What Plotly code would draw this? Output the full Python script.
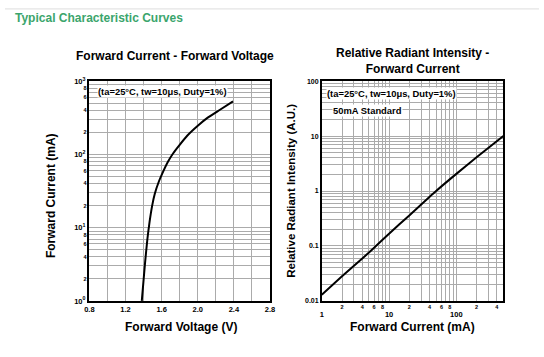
import plotly.graph_objects as go

# ---------------- data ----------------
# Forward current vs forward voltage
vf_volts = [1.38, 1.415, 1.441, 1.466, 1.495, 1.524, 1.57, 1.61, 1.671, 1.726, 1.795, 1.885, 2.00, 2.11, 2.25, 2.39]
vf_current_ma = [1, 3.2, 6.8, 12, 20, 29, 43, 56, 80, 103, 133, 181, 246, 317, 410, 530]

# Relative radiant intensity vs forward current
ri_current_ma = [1, 2, 4, 6, 10, 20, 50, 100, 200, 500]
ri_intensity = [0.013, 0.028, 0.059, 0.093, 0.167, 0.36, 1.0, 2.05, 4.1, 10]

# tick labels
vf_x_ticks = [0.8, 1.2, 1.6, 2.0, 2.4, 2.8]
vf_x_labels = ["0.8", "1.2", "1.6", "2.0", "2.4", "2.8"]
vf_x_grid = [0.8, 1.0, 1.2, 1.4, 1.6, 1.8, 2.0, 2.2, 2.4, 2.6, 2.8]
vf_y_major = [1, 10, 100, 1000]
vf_y_major_labels = ["10<sup>0</sup>", "10<sup>1</sup>", "10<sup>2</sup>", "10<sup>3</sup>"]
vf_y_minor = [2, 4, 6, 8, 20, 40, 60, 80, 200, 400, 600, 800]
vf_y_minor_labels = ["2", "4", "6", "8", "2", "4", "6", "8", "2", "4", "6", "8"]

ri_x_major = [1, 10, 100]
ri_x_major_labels = ["1", "10", "100"]
ri_x_minor = [2, 4, 6, 8, 20, 40, 60, 80, 200, 400]
ri_x_minor_labels = ["2", "4", "6", "8", "2", "4", "6", "8", "2", "4"]
ri_y_major = [0.01, 0.1, 1, 10, 100]
ri_y_major_labels = ["0.01", "0.1", "1", "10", "100"]

# ---------------- styling ----------------
FONT = "Liberation Sans, Arial, sans-serif"
GRID = "#ababab"
W, H = 544, 357


def py(px):
    return 1 - px / H


def pxx(px):
    return px / W


mults = [1, 2, 3, 4, 5, 6, 7, 8, 9]
vf_y_grid = [m * 10 ** d for d in range(0, 3) for m in mults] + [1000]
ri_x_grid = [m * 10 ** d for d in range(0, 3) for m in mults if m * 10 ** d <= 500]
ri_y_grid = [m * 10.0 ** d for d in range(-2, 2) for m in mults] + [100]

fig = go.Figure()
fig.add_trace(go.Scatter(x=vf_volts, y=vf_current_ma, mode="lines",
                         line=dict(color="black", width=2, shape="spline", smoothing=0.6),
                         xaxis="x", yaxis="y", showlegend=False))
fig.add_trace(go.Scatter(x=ri_current_ma, y=ri_intensity, mode="lines",
                         line=dict(color="black", width=2, shape="spline", smoothing=0.6),
                         xaxis="x2", yaxis="y2", showlegend=False))

frame = dict(showline=True, linecolor="black", linewidth=1.5, mirror=True, ticks="",
             showgrid=True, gridcolor=GRID, gridwidth=1.2, zeroline=False)


def minor(vals):
    return dict(tickmode="array", tickvals=vals, showgrid=True, gridcolor=GRID,
                gridwidth=1.2, ticks="")


small = dict(family=FONT, size=5.5, color="black", weight="bold")
big = dict(family=FONT, size=7.5, color="black", weight="bold")
plain = dict(showgrid=False, showline=False, ticks="", zeroline=False)

ydom = [py(304.3), py(77.5)]
fig.update_layout(
    width=W, height=H, margin=dict(l=0, r=0, t=0, b=0),
    paper_bgcolor="white", plot_bgcolor="white",
    font=dict(family=FONT, color="black"),
    xaxis=dict(domain=[pxx(86), pxx(270)], range=[0.8, 2.8], anchor="y",
               tickmode="array", tickvals=vf_x_ticks, ticktext=vf_x_labels,
               tickfont=big, minor=minor(vf_x_grid), **frame),
    yaxis=dict(domain=ydom, type="log", range=[0, 3], anchor="x",
               tickmode="array", tickvals=vf_y_minor, ticktext=vf_y_minor_labels,
               tickfont=small, minor=minor(vf_y_grid), **frame),
    yaxis3=dict(overlaying="y", type="log", range=[0, 3], anchor="x", side="left",
                tickmode="array", tickvals=vf_y_major, ticktext=vf_y_major_labels,
                tickfont=big, ticklabelstandoff=3, **plain),
    xaxis2=dict(domain=[pxx(322.7), pxx(507.7)], type="log", range=[0, 2.69897], anchor="y2",
                tickmode="array", tickvals=ri_x_minor, ticktext=ri_x_minor_labels,
                tickfont=small, minor=minor(ri_x_grid), **frame),
    xaxis4=dict(overlaying="x2", type="log", range=[0, 2.69897], anchor="y2", side="bottom",
                tickmode="array", tickvals=ri_x_major, ticktext=ri_x_major_labels,
                tickfont=big, ticklabelstandoff=8, **plain),
    yaxis2=dict(domain=ydom, type="log", range=[-2, 2], anchor="x2",
                tickmode="array", tickvals=ri_y_major, ticktext=ri_y_major_labels,
                tickfont=dict(family=FONT, size=7, color="black", weight="bold"),
                minor=minor(ri_y_grid), **frame),
)

# empty traces so the overlay label axes render
fig.add_trace(go.Scatter(x=[None], y=[None], xaxis="x", yaxis="y3", showlegend=False))
fig.add_trace(go.Scatter(x=[None], y=[None], xaxis="x4", yaxis="y2", showlegend=False))

ann = []
ann.append(dict(x=pxx(8), y=py(12), xref="paper", yref="paper", xanchor="left", yanchor="middle",
                text="<b>Typical Characteristic Curves</b>", showarrow=False,
                font=dict(family=FONT, size=12, color="#3ba56c")))
ann.append(dict(x=pxx(173), y=py(52), xref="paper", yref="paper", xanchor="center", yanchor="middle",
                text="<b>Forward Current - Forward Voltage</b>", showarrow=False,
                font=dict(family=FONT, size=12)))
ann.append(dict(x=pxx(415), y=py(57), xref="paper", yref="paper", xanchor="center", yanchor="middle",
                text="<b>Relative Radiant Intensity -<br>Forward Current</b>", showarrow=False,
                font=dict(family=FONT, size=12)))
ann.append(dict(x=pxx(179), y=py(331), xref="paper", yref="paper", xanchor="center", yanchor="middle",
                text="<b>Forward Voltage (V)</b>", showarrow=False, font=dict(family=FONT, size=12)))
ann.append(dict(x=pxx(415), y=py(331), xref="paper", yref="paper", xanchor="center", yanchor="middle",
                text="<b>Forward Current (mA)</b>", showarrow=False, font=dict(family=FONT, size=12)))
ann.append(dict(x=pxx(47), y=py(196), xref="paper", yref="paper", xanchor="center", yanchor="middle",
                text="<b>Forward Current (mA)</b>", textangle=-90, showarrow=False,
                font=dict(family=FONT, size=12)))
ann.append(dict(x=pxx(291), y=py(191), xref="paper", yref="paper", xanchor="center", yanchor="middle",
                text="<b>Relative Radiant Intensity (A.U.)</b>", textangle=-90, showarrow=False,
                font=dict(family=FONT, size=11.5)))
ann.append(dict(x=pxx(160), y=py(88), xref="paper", yref="paper", xanchor="center", yanchor="middle",
                text="<b>(ta=25°C, tw=10μs, Duty=1%)</b>", showarrow=False, bgcolor="white",
                borderpad=0, font=dict(family=FONT, size=9.4)))
ann.append(dict(x=pxx(393.5), y=py(90.5), xref="paper", yref="paper", xanchor="center", yanchor="middle",
                text="<b>(ta=25°C, tw=10μs, Duty=1%)</b>", showarrow=False, bgcolor="white",
                borderpad=0, font=dict(family=FONT, size=9.4)))
ann.append(dict(x=pxx(369), y=py(107.5), xref="paper", yref="paper", xanchor="center", yanchor="middle",
                text="<b>50mA Standard</b>", showarrow=False, bgcolor="white",
                borderpad=0, font=dict(family=FONT, size=9.4)))
fig.update_layout(annotations=ann)

fig.add_shape(type="line", xref="paper", yref="paper", x0=0, x1=1, y0=py(3), y1=py(3),
              line=dict(color="#dddddd", width=1))

fig.write_html("out.html",
               config={"displayModeBar": False},
               post_script="document.documentElement.style.margin='0';"
                           "document.body.style.margin='0';"
                           "document.body.style.overflow='hidden';")
